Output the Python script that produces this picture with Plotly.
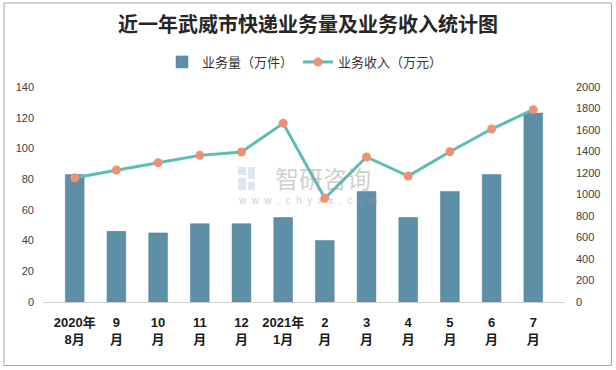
import plotly.graph_objects as go

categories = ["2020年<br>8月", "9<br>月", "10<br>月", "11<br>月", "12<br>月", "2021年<br>1月",
              "2<br>月", "3<br>月", "4<br>月", "5<br>月", "6<br>月", "7<br>月"]
volume = [83, 46, 45, 51, 51, 55, 40, 72, 55, 72, 83, 123]
revenue = [1156, 1228, 1296, 1364, 1395, 1662, 965, 1349, 1172, 1398, 1609, 1789]
left_ticks = [0, 20, 40, 60, 80, 100, 120, 140]
right_ticks = [0, 200, 400, 600, 800, 1000, 1200, 1400, 1600, 1800, 2000]

W, H = 616, 370
L, R, T, B = 43, 51, 87, 68
pw, ph = W - L - R, H - T - B

def px(x):
    return (x - L) / pw

def py(y):
    return (H - B - y) / ph

fig = go.Figure()
fig.add_trace(go.Bar(x=categories, y=volume, name="业务量（万件）",
                     marker=dict(color="#5D8FA7", line=dict(color="#4F7F98", width=0.5)),
                     yaxis="y"))
fig.add_trace(go.Scatter(x=categories, y=revenue, name="业务收入（万元）", mode="lines+markers",
                         line=dict(color="#5BBDB4", width=3),
                         marker=dict(color="#EE9276", size=9),
                         yaxis="y2"))

font_tick = dict(family="Liberation Sans, Arial", size=11, color="#404040")
logo = []
for (x0, y0, x1, y1) in [(238, 167, 246, 175), (248, 167, 255, 179), (238, 178, 246, 190),
                          (248, 182, 255, 190)]:
    logo.append(dict(type="rect", xref="paper", yref="paper",
                     x0=px(x0), x1=px(x1), y0=py(y1), y1=py(y0),
                     line=dict(width=0), fillcolor="rgba(180,200,225,0.45)", layer="below"))

fig.update_layout(
    width=W, height=H,
    margin=dict(l=L, r=R, t=T, b=B, autoexpand=False),
    paper_bgcolor="white", plot_bgcolor="white",
    bargap=0.55,
    title=dict(text="<b>近一年武威市快递业务量及业务收入统计图</b>", x=px(308), xanchor="center",
               xref="paper", y=1 - 25 / H, yanchor="middle",
               font=dict(family="Noto Sans CJK SC", size=20, color="#262626")),
    legend=dict(orientation="h", x=px(305), xanchor="center", y=py(62), yanchor="middle",
                font=dict(family="Noto Sans CJK SC", size=13, color="#333333"),
                bgcolor="rgba(0,0,0,0)"),
    xaxis=dict(showgrid=False, showline=True, linecolor="#D0D0D0", linewidth=1,
               ticks="", ticklabelstandoff=8,
               tickfont=dict(family="Liberation Sans, Noto Sans CJK SC", size=13, color="#1a1a1a",
                             weight="bold"),
               tickangle=0),
    yaxis=dict(range=[0, 140], tickvals=left_ticks, showgrid=False, zeroline=False,
               showline=False, tickfont=font_tick, ticks="", ticklabelstandoff=8),
    yaxis2=dict(range=[0, 2000], tickvals=right_ticks, overlaying="y", side="right",
                showgrid=False, zeroline=False, showline=False, tickfont=font_tick, ticks="",
                ticklabelstandoff=10),
    shapes=[dict(type="rect", xref="paper", yref="paper",
                 x0=px(4), x1=px(611.5), y0=py(3), y1=py(365.5),
                 line=dict(color="#A6A6A6", width=1), fillcolor="rgba(0,0,0,0)", layer="below")]
           + logo,
    annotations=[
        dict(text="智研咨询", xref="paper", yref="paper", x=px(323), y=py(177),
             xanchor="center", yanchor="middle", showarrow=False,
             font=dict(family="Noto Sans CJK SC", size=24, color="rgba(160,160,160,0.5)")),
        dict(text="w  w  w  .  c  h  y  x  x  .  c  o  m", xref="paper", yref="paper", x=px(307), y=py(200),
             xanchor="center", yanchor="middle", showarrow=False,
             font=dict(family="Liberation Sans", size=10, color="rgba(160,160,160,0.55)")),
    ],
)

fig.write_html("out.html", config={"displayModeBar": False},
               post_script="document.body.style.margin='0';document.body.style.padding='0';")
